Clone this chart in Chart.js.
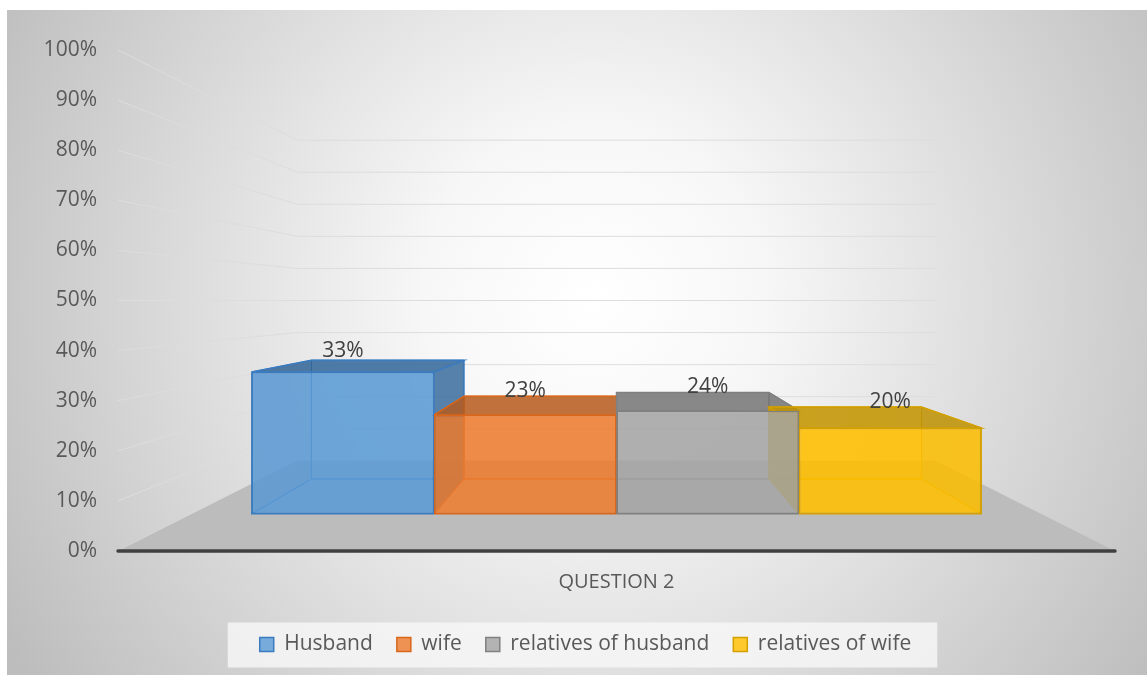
<!DOCTYPE html>
<html>
<head>
<meta charset="utf-8">
<script src="https://cdn.jsdelivr.net/npm/chart.js@4.4.1/dist/chart.umd.min.js"></script>
<style>
	html, body { margin: 0; padding: 0; background: #fff; }
	#wrap { width: 1147px; height: 675px; position: relative; }
</style>
</head>
<body>
<div id="wrap"><canvas id="myChart"></canvas></div>
<script>
const categories = ["QUESTION 2"];
const seriesNames = ["Husband", "wife", "relatives of husband", "relatives of wife"];
const seriesValues = [0.33, 0.23, 0.24, 0.20];
const tickLabels = ["0%", "10%", "20%", "30%", "40%", "50%", "60%", "70%", "80%", "90%", "100%"];

const faceColors = ["91,155,213", "237,125,49", "165,165,165", "255,192,0"];
const topColors = ["50,100,150", "180,90,30", "115,115,115", "190,145,0"];
const edgeColors = ["#3b7cc0", "#d9671b", "#808080", "#d4a000"];

const FONT = "'Open Sans', 'Noto Sans', sans-serif";
const FLOOR_DEPTH = 0.36; // how far the back wall sits toward the vanishing point
const BAR_DEPTH = 0.164; // depth of each bar box

function proj(x, y, k, vx, vy) {
	return [x + k * (vx - x), y + k * (vy - y)];
}

function poly(ctx, pts, fill, stroke, lw) {
	ctx.beginPath();
	ctx.moveTo(pts[0][0], pts[0][1]);
	for (let i = 1; i < pts.length; i++) ctx.lineTo(pts[i][0], pts[i][1]);
	ctx.closePath();
	if (fill) { ctx.fillStyle = fill; ctx.fill(); }
	if (stroke) { ctx.strokeStyle = stroke; ctx.lineWidth = lw || 1; ctx.stroke(); }
}

const scene3d = {
	id: "scene3d",
	beforeDraw(chart) {
		const ctx = chart.ctx;
		const w = chart.width, h = chart.height;
		ctx.save();
		ctx.fillStyle = "#ffffff";
		ctx.fillRect(0, 0, w, h);
		// radial grey background like the office chart area
		const g = ctx.createRadialGradient(w / 2 + 20, h / 2 - 40, 0, w / 2 + 20, h / 2 - 40, 680);
		g.addColorStop(0, "#ffffff");
		g.addColorStop(0.25, "#f7f7f7");
		g.addColorStop(1, "#bdbdbd");
		ctx.fillStyle = g;
		ctx.fillRect(7, 10, w - 7, h - 10);

		// legend panel
		const lg = chart.legend;
		if (lg && lg.legendHitBoxes.length) {
			const hb = lg.legendHitBoxes;
			const l = hb[0].left - 32;
			const r = hb[hb.length - 1].left + hb[hb.length - 1].width + 26;
			const cy = hb[0].top + hb[0].height / 2;
			ctx.fillStyle = "rgba(248,248,248,0.8)";
			ctx.fillRect(l, cy - 22, r - l, 45);
		}
		ctx.restore();
	},
	beforeDatasetsDraw(chart) {
		const ctx = chart.ctx;
		const area = chart.chartArea;
		const ys = chart.scales.y;
		const vx = (area.left + area.right) / 2;
		const vy = ys.getPixelForValue(0.5);
		const y0 = ys.getPixelForValue(0);
		ctx.save();

		// side and back wall gridlines
		ctx.strokeStyle = "#dddddd";
		ctx.lineWidth = 1;
		ys.ticks.forEach(t => {
			const yF = ys.getPixelForValue(t.value);
			const L = proj(area.left, yF, FLOOR_DEPTH, vx, vy);
			const R = proj(area.right, yF, FLOOR_DEPTH, vx, vy);
			ctx.beginPath();
			ctx.moveTo(area.left, yF);
			ctx.lineTo(L[0], L[1]);
			ctx.lineTo(R[0], R[1]);
			ctx.stroke();
		});

		// floor
		poly(ctx, [
			[area.left, y0], [area.right, y0],
			proj(area.right, y0, FLOOR_DEPTH, vx, vy),
			proj(area.left, y0, FLOOR_DEPTH, vx, vy),
		], "#bcbcbc");

		// boxes behind the front faces
		chart.data.datasets.forEach((ds, i) => {
			const el = chart.getDatasetMeta(i).data[0];
			if (!el) return;
			const x1 = el.x - el.width / 2, x2 = el.x + el.width / 2;
			const yT = el.y, yB = el.base;
			const P = (x, y) => proj(x, y, BAR_DEPTH, vx, vy);
			const c = faceColors[i], t = topColors[i], e = edgeColors[i];
			// back face
			poly(ctx, [P(x1, yT), P(x2, yT), P(x2, yB), P(x1, yB)], "rgba(" + c + ",0.35)", e, 1);
			// bottom
			poly(ctx, [[x1, yB], [x2, yB], P(x2, yB), P(x1, yB)], "rgba(" + c + ",0.3)", e, 1);
			// sides
			const leftOut = x1 > vx;
			const rightOut = x2 < vx;
			poly(ctx, [[x1, yT], [x1, yB], P(x1, yB), P(x1, yT)], "rgba(" + t + "," + (leftOut ? 0.75 : 0.25) + ")", e, 1);
			poly(ctx, [[x2, yT], [x2, yB], P(x2, yB), P(x2, yT)], "rgba(" + t + "," + (rightOut ? 0.75 : 0.25) + ")", e, 1);
			// top
			poly(ctx, [[x1, yT], [x2, yT], P(x2, yT), P(x1, yT)], "rgba(" + t + ",0.8)", e, 1.5);
		});

		// front edge of the floor
		ctx.strokeStyle = "#404040";
		ctx.lineWidth = 3.5;
		ctx.lineCap = "round";
		ctx.beginPath();
		ctx.moveTo(area.left, y0);
		ctx.lineTo(area.right, y0);
		ctx.stroke();
		ctx.restore();
	},
	afterDatasetsDraw(chart) {
		const ctx = chart.ctx;
		const area = chart.chartArea;
		const ys = chart.scales.y;
		const vx = (area.left + area.right) / 2;
		const vy = ys.getPixelForValue(0.5);
		ctx.save();
		ctx.fillStyle = "#404040";
		ctx.font = "21px " + FONT;
		ctx.textAlign = "center";
		ctx.textBaseline = "alphabetic";
		chart.data.datasets.forEach((ds, i) => {
			const el = chart.getDatasetMeta(i).data[0];
			if (!el) return;
			// label sits above the middle of the top face
			const mid = proj(el.x, el.y, BAR_DEPTH / 2, vx, vy);
			ctx.fillText(Math.round(ds.data[0] * 100) + "%", el.x, mid[1] - 9);
		});
		ctx.restore();
	},
};

const datasets = seriesNames.map((name, i) => ({
	label: name,
	data: [seriesValues[i]],
	yAxisID: "y2",
	backgroundColor: "rgba(" + faceColors[i] + ",0.82)",
	borderColor: edgeColors[i],
	borderWidth: 1.5,
	borderSkipped: false,
}));

const config = {
	type: "bar",
	data: { labels: categories, datasets: datasets },
	plugins: [scene3d],
	options: {
		responsive: false,
		animation: false,
		datasets: {
			bar: { barPercentage: 1, categoryPercentage: 0.732 },
		},
		layout: { padding: { left: 24, right: 0, top: 50, bottom: 10 } },
		plugins: {
			tooltip: { enabled: false },
			legend: {
				position: "bottom",
				labels: {
					boxWidth: 14,
					boxHeight: 14,
					padding: 24,
					color: "#595959",
					font: { family: FONT, size: 21 },
				},
			},
		},
		scales: {
			x: {
				grid: { display: false, drawTicks: false },
				border: { display: false },
				ticks: { color: "#595959", font: { family: FONT, size: 20 }, padding: 19 },
				afterFit: s => { s.height = 59; },
			},
			y: {
				position: "left",
				min: 0,
				max: 1,
				grid: { display: false, drawTicks: false },
				border: { display: false },
				ticks: {
					stepSize: 0.1,
					padding: 21,
					color: "#595959",
					font: { family: FONT, size: 21 },
					callback: (v, idx) => tickLabels[idx],
				},
				afterFit: s => { s.width = 94; },
			},
			y2: {
				position: "right",
				min: -0.086,
				max: 1.078,
				grid: { display: false, drawTicks: false },
				border: { display: false },
				ticks: { display: false },
				afterFit: s => { s.width = 32; },
			},
		},
	},
};

const canvas = document.getElementById("myChart");
canvas.width = 1147;
canvas.height = 675;
new Chart(canvas, config);
</script>
</body>
</html>
